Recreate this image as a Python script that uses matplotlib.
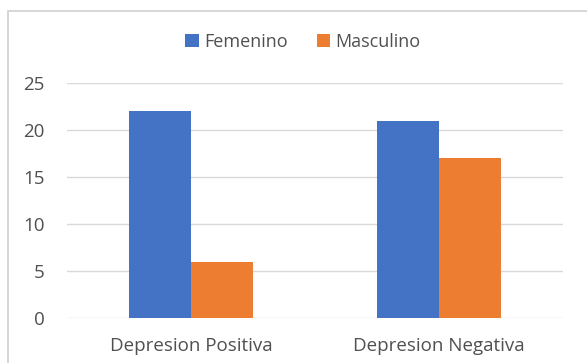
import matplotlib.pyplot as plt
import numpy as np
from matplotlib.patches import Rectangle

categories = ['Depresion Positiva', 'Depresion Negativa']
femenino = [22, 21]
masculino = [6, 17]
yticks = [0, 5, 10, 15, 20, 25]

plt.rcParams['font.family'] = ['Open Sans', 'DejaVu Sans']

fig = plt.figure(figsize=(5.87, 3.63), dpi=100)
ax = fig.add_axes([0.114, 0.124, 0.845, 0.647])

# outer chart frame
fig.patches.append(Rectangle((8 / 587, -0.1), 1.1, 1 - 11 / 363 + 0.1,
                             transform=fig.transFigure, fill=False,
                             edgecolor='#d0d0d0', linewidth=1.2))

x = np.arange(len(categories))
w = 0.25
ax.bar(x - w / 2, femenino, w, color='#4472C4', label='Femenino', zorder=3)
ax.bar(x + w / 2, masculino, w, color='#ED7D31', label='Masculino', zorder=3)

ax.set_xlim(-0.5, 1.5)
ax.set_ylim(0, 25)
ax.set_yticks(yticks)
ax.set_xticks(x)
ax.set_xticklabels(categories)
ax.grid(axis='y', color='#d9d9d9', linewidth=1, zorder=0)
for s in ax.spines.values():
    s.set_visible(False)
ax.tick_params(length=0, labelsize=13.5, colors='#505050', pad=14)
ax.tick_params(axis='y', pad=16)

fig.legend(loc='center', bbox_to_anchor=(303 / 587, 1 - 42 / 363), ncol=2,
           frameon=False, fontsize=13, handlelength=0.75, handleheight=0.75,
           handletextpad=0.3, columnspacing=1.6, labelcolor='#505050')

fig.savefig('out.png', dpi=100)
